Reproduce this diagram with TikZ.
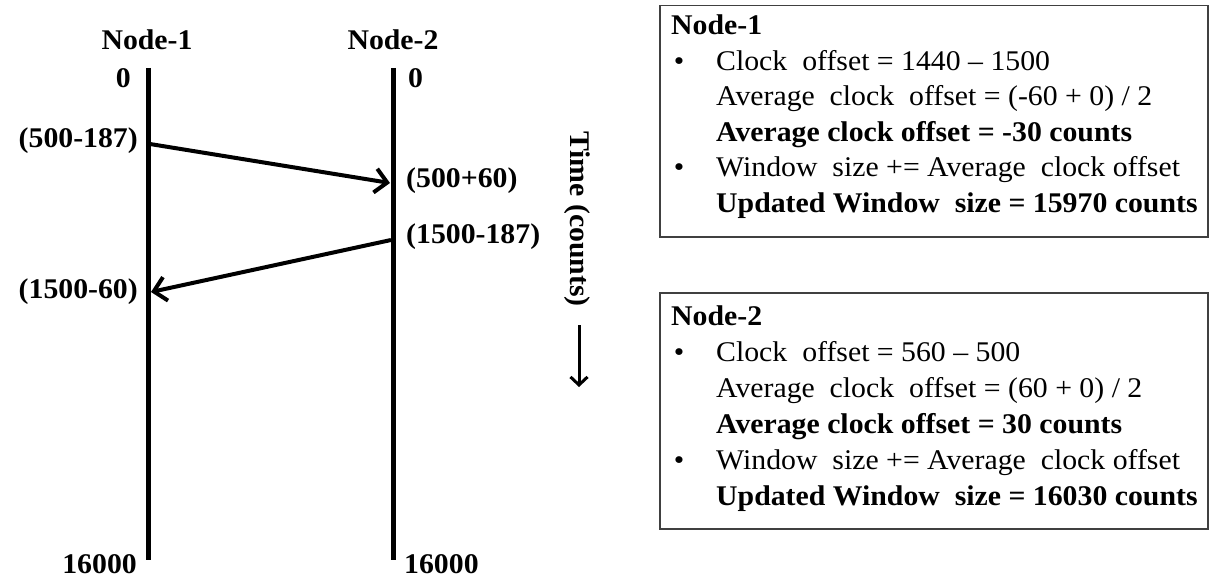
\documentclass[tikz,border=0pt]{standalone}
\usepackage{fontspec}
\setmainfont{Liberation Serif}[FakeStretch=1.045]
\usetikzlibrary{arrows.meta}
\begin{document}
\begin{tikzpicture}[x=1pt,y=-1pt,
  lbl/.style={inner sep=0pt,font=\fontsize{28.5}{34}\selectfont\bfseries},
  txt/.style={inner sep=0pt,anchor=base west,font=\fontsize{28.5}{34}\selectfont},
  btxt/.style={txt,font=\fontsize{28.5}{34}\selectfont\bfseries},
  bul/.style={inner sep=0pt,anchor=base,font=\fontsize{28.5}{34}\selectfont},
  tline/.style={line width=5pt},
  msg/.style={line width=4pt,-{Straight Barb[length=12pt,width=24pt,line width=4pt]}},
  infobox/.style={draw=black!75,line width=1.5pt,inner sep=0pt}]
\useasboundingbox (0,0) rectangle (1209,580);
% headers
\node[lbl] (h1) at (147,40) {Node-1};
\node[lbl] (h2) at (393,40) {Node-2};
% timelines
\coordinate (t1a) at (148,68); \coordinate (t1b) at (148,560);
\coordinate (t2a) at (393,68); \coordinate (t2b) at (393,560);
\draw[tline] (t1a) -- (t1b);
\draw[tline] (t2a) -- (t2b);
% labels
\node[lbl,anchor=east] (z1) at (131,78) {0};
\node[lbl,anchor=west] (z2) at (408,78) {0};
\node[lbl,anchor=east] (s1) at (138,141) {(500-187)};
\node[lbl,anchor=west] (r1) at (406,181) {(500+60)};
\node[lbl,anchor=west] (s2) at (406,237) {(1500-187)};
\node[lbl,anchor=east] (r2) at (138,292) {(1500-60)};
\node[lbl,anchor=east] (e1) at (137,564) {16000};
\node[lbl,anchor=west] (e2) at (404,564) {16000};
% messages
\coordinate (m1a) at (150,144); \coordinate (m1b) at (390,183);
\coordinate (m2a) at (391,240); \coordinate (m2b) at (151,292);
\draw[msg] (m1a) -- (m1b);
\draw[msg] (m2a) -- (m2b);
% time axis
\node[lbl,rotate=-90] (time) at (577,219) {Time (counts)};
\coordinate (ta) at (579,325); \coordinate (tb) at (579,387);
\draw[line width=3pt,-{Straight Barb[length=8pt,width=17pt,line width=3pt]}] (ta) -- (tb);
% box 1
\node[infobox,minimum width=548pt,minimum height=231pt,anchor=north west] (box1) at (659,5) {};
\node[btxt] (b1h) at (671,35) {Node-1};
\node[bul] (b1p1) at (679,70.5) {\textbullet};
\node[txt] (b1l1) at (716,70.5) {Clock\ \ offset = 1440 -- 1500};
\node[txt] (b1l2) at (716,106) {Average\ \ clock\ \ offset = (-60 + 0) / 2};
\node[btxt] (b1l3) at (716,141.5) {Average clock offset = -30 counts};
\node[bul] (b1p2) at (679,177) {\textbullet};
\node[txt] (b1l4) at (716,177) {Window\ \ size += Average\ \ clock offset};
\node[btxt] (b1l5) at (716,212.5) {Updated Window\ \ size = 15970 counts};
% box 2
\node[infobox,minimum width=548pt,minimum height=236pt,anchor=north west] (box2) at (659,292) {};
\node[btxt] (b2h) at (671,325) {Node-2};
\node[bul] (b2p1) at (679,361) {\textbullet};
\node[txt] (b2l1) at (716,361) {Clock\ \ offset = 560 -- 500};
\node[txt] (b2l2) at (716,397) {Average\ \ clock\ \ offset = (60 + 0) / 2};
\node[btxt] (b2l3) at (716,433) {Average clock offset = 30 counts};
\node[bul] (b2p2) at (679,469) {\textbullet};
\node[txt] (b2l4) at (716,469) {Window\ \ size += Average\ \ clock offset};
\node[btxt] (b2l5) at (716,505) {Updated Window\ \ size = 16030 counts};
\end{tikzpicture}
\end{document}
